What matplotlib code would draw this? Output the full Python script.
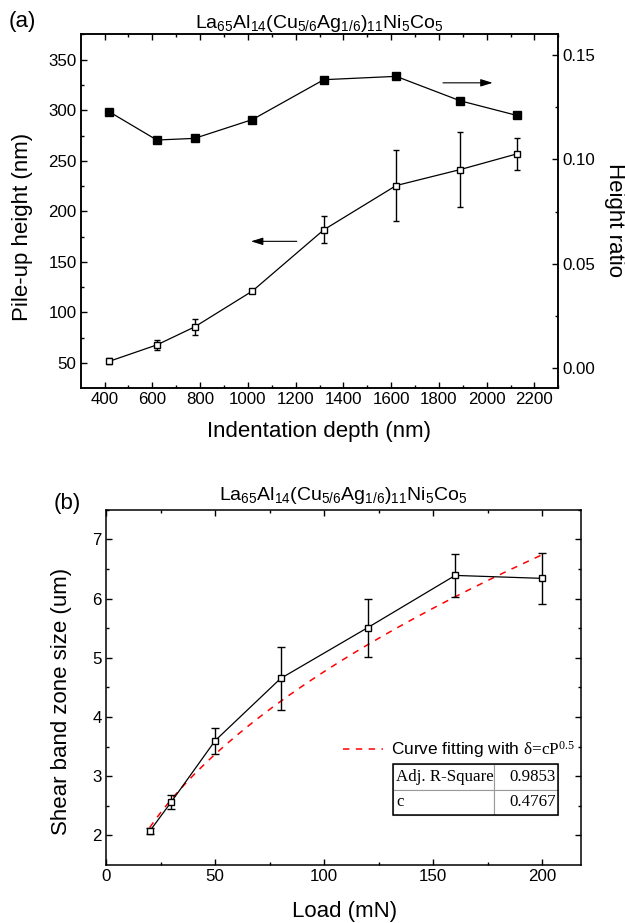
import matplotlib
matplotlib.use("Agg")
import matplotlib.pyplot as plt
import numpy as np
from matplotlib.patches import Rectangle

plt.rcParams["font.family"] = ["Liberation Sans", "DejaVu Sans"]
plt.rcParams["mathtext.fontset"] = "custom"
plt.rcParams["mathtext.rm"] = "Liberation Serif"
plt.rcParams["mathtext.it"] = "Liberation Serif:italic"
plt.rcParams["mathtext.default"] = "regular"

# ---- (a) pile-up height and height ratio vs indentation depth ----
depth = [420, 619, 777, 1019, 1318, 1621, 1889, 2126]
pileup = [51.6, 67.8, 85.6, 121.1, 181.7, 225.5, 241.3, 256.8]
pileup_err = [3.0, 4.6, 8.0, 2.0, 13.3, 35.0, 37.0, 15.6]
height_ratio = [0.1228, 0.1093, 0.1101, 0.1191, 0.1382, 0.1398, 0.1281, 0.1211]

# ---- (b) shear band zone size vs load ----
load = [20, 30, 50, 80, 120, 160, 200]
band_size = [2.07, 2.57, 3.60, 4.65, 5.51, 6.39, 6.34]
band_err = [0.05, 0.12, 0.22, 0.53, 0.49, 0.37, 0.43]
fit_c = 0.4767
fit_adj_r2 = 0.9853

alloy = r"La$_{65}$Al$_{14}$(Cu$_{5/6}$Ag$_{1/6}$)$_{11}$Ni$_{5}$Co$_{5}$"

TICK_FS = 12.2
LABEL_FS = 16
TITLE_FS = 14

fig = plt.figure(figsize=(6.25, 9.23), dpi=100)


def style_axis(ax):
    for sp in ax.spines.values():
        sp.set_linewidth(1.1)
    ax.tick_params(which="both", direction="in", width=1.0, labelsize=TICK_FS)
    ax.tick_params(which="major", length=4.3, pad=3)
    ax.tick_params(which="minor", length=2.3)


# ================= panel (a) =================
axa = fig.add_axes([0.1291, 0.5800, 0.7642, 0.3832])
axa.errorbar(depth, pileup, yerr=pileup_err, fmt="-s", color="black",
             mfc="white", mec="black", ms=4.6, mew=1.0, lw=0.9,
             ecolor="black", elinewidth=1.0, capsize=2.3, capthick=1.0, zorder=3)
axa.set_xlim(300, 2300)
axa.set_ylim(25.5, 375.5)
axa.set_xticks(np.arange(400, 2201, 200))
axa.set_xticks(np.arange(500, 2301, 200), minor=True)
axa.set_yticks(np.arange(50, 351, 50))
axa.set_yticks(np.arange(75, 376, 50), minor=True)
style_axis(axa)
axa.tick_params(top=True, which="both")
axa.set_title(alloy, fontsize=TITLE_FS, pad=3)
axa.annotate("", xy=(1013, 170.3), xytext=(1205, 170.3),
             arrowprops=dict(arrowstyle="-|>,head_length=0.45,head_width=0.14",
                             color="black", lw=0.8, mutation_scale=16,
                             shrinkA=0, shrinkB=0))

axr = axa.twinx()
axr.plot(depth, height_ratio, "-s", color="black", ms=5.6, lw=0.9, zorder=3)
axr.set_ylim(-0.0093, 0.1601)
axr.set_yticks([0.00, 0.05, 0.10, 0.15])
axr.set_yticklabels(["0.00", "0.05", "0.10", "0.15"])
axr.set_yticks([0.025, 0.075, 0.125], minor=True)
style_axis(axr)
axr.annotate("", xy=(2025, 0.1367), xytext=(1817, 0.1367),
             arrowprops=dict(arrowstyle="-|>,head_length=0.45,head_width=0.14",
                             color="black", lw=0.8, mutation_scale=16,
                             shrinkA=0, shrinkB=0))

fig.text(23 / 625, 1 - 227 / 923, "Pile-up height (nm)", rotation=90,
         ha="center", va="center", fontsize=LABEL_FS)
fig.text(614 / 625, 1 - 220 / 923, "Height ratio", rotation=270,
         ha="center", va="center", fontsize=LABEL_FS)
fig.text(319 / 625, 1 - 432 / 923, "Indentation depth (nm)",
         ha="center", va="center", fontsize=LABEL_FS)
fig.text(22 / 625, 1 - 22 / 923, "(a)", ha="center", va="center",
         fontsize=LABEL_FS)

# ================= panel (b) =================
axb = fig.add_axes([0.1696, 0.0628, 0.7595, 0.3850])
p_fit = np.linspace(load[0], load[-1], 200)
axb.plot(p_fit, fit_c * np.sqrt(p_fit), color="#ff0000", lw=1.1,
         dashes=(4.2, 4.2), zorder=2,
         label=r"Curve fitting with "
               r"$\mathrm{\delta\hspace{-0.2}=\hspace{-0.2}cP^{0.5}}$")
axb.errorbar(load, band_size, yerr=band_err, fmt="-s", color="black",
             mfc="white", mec="black", ms=4.8, mew=1.0, lw=0.9,
             ecolor="black", elinewidth=1.0, capsize=2.8, capthick=1.0, zorder=3)
axb.set_xlim(0, 217.5)
axb.set_ylim(1.5, 7.5)
axb.set_xticks(np.arange(0, 201, 50))
axb.set_xticks(np.arange(25, 216, 50), minor=True)
axb.set_yticks(np.arange(2, 8, 1))
axb.set_yticks(np.arange(2.5, 7.6, 1), minor=True)
style_axis(axb)
axb.tick_params(top=True, right=True, which="both")
axb.set_title(alloy, fontsize=TITLE_FS, pad=7)

leg = axb.legend(loc="center left", bbox_to_anchor=(0.4993, 0.3237),
                 frameon=False, fontsize=12.4, handlelength=2.3,
                 handletextpad=0.5, borderpad=0, borderaxespad=0)

tbl = axb.table(cellText=[["Adj. R-Square", f"{fit_adj_r2:.4f}"],
                          ["c", f"{fit_c:.4f}"]],
                colWidths=[0.614, 0.386],
                bbox=[0.6052, 0.1407, 0.3463, 0.1436], zorder=4)
tbl.auto_set_font_size(False)
tbl.set_fontsize(12.2)
for (r, cidx), cell in tbl.get_celld().items():
    cell.set_edgecolor("#9a9a9a")
    cell.set_linewidth(0.8)
    cell.PAD = 0.03
    txt = cell.get_text()
    txt.set_fontfamily("Liberation Serif")
    txt.set_ha("left" if cidx == 0 else "right")
    cell._loc = "left" if cidx == 0 else "right"
axb.add_patch(Rectangle((0.6052, 0.1407), 0.3463, 0.1436,
                        transform=axb.transAxes, fill=False,
                        edgecolor="black", lw=1.1, zorder=5))

fig.text(62 / 625, 1 - 701 / 923, "Shear band zone size (um)", rotation=90,
         ha="center", va="center", fontsize=LABEL_FS)
fig.text(345 / 625, 1 - 911 / 923, "Load (mN)", ha="center", va="center",
         fontsize=LABEL_FS)
fig.text(67 / 625, 1 - 503 / 923, "(b)", ha="center", va="center",
         fontsize=LABEL_FS)

fig.savefig("out.png", dpi=100)
